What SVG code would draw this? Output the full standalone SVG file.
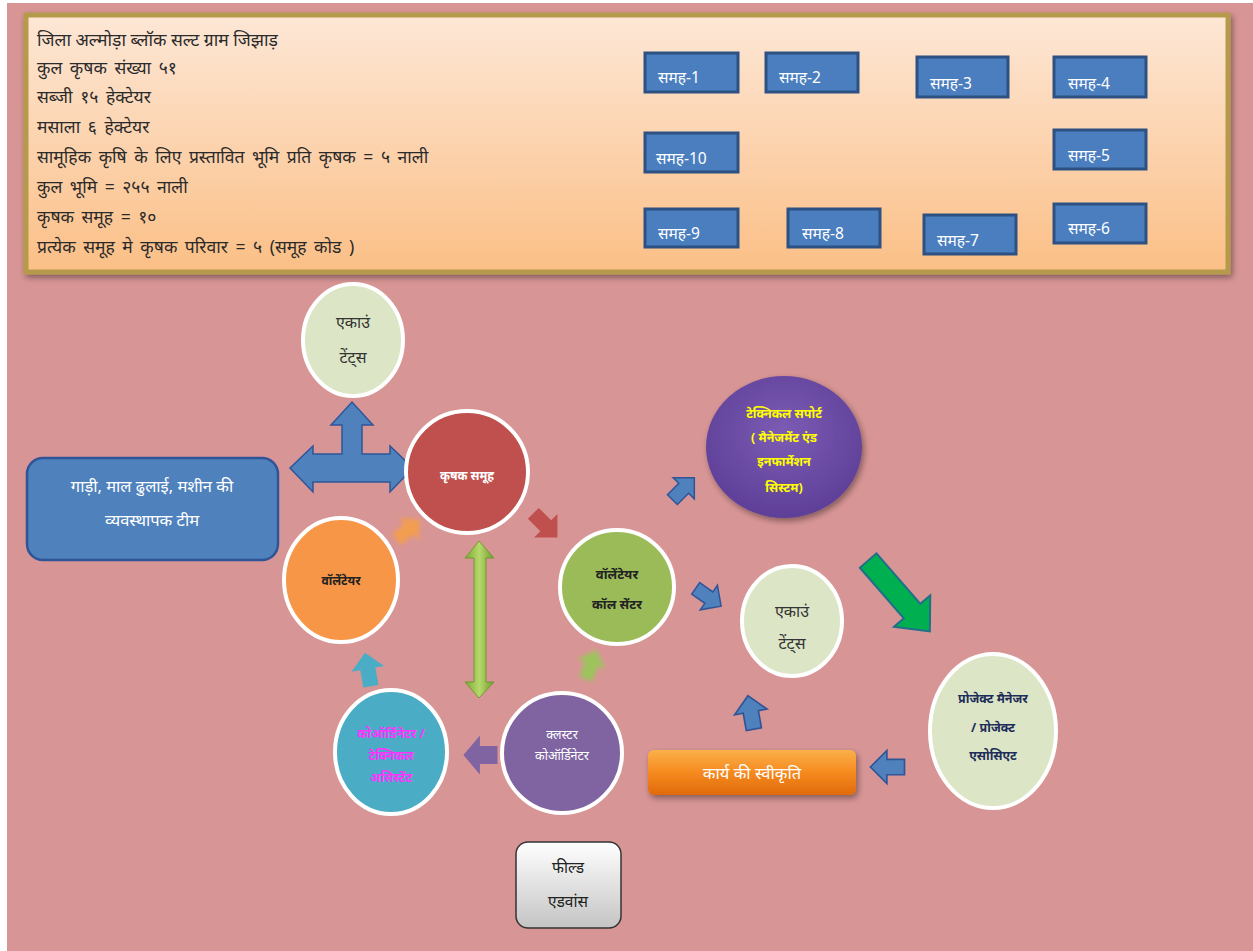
<svg xmlns="http://www.w3.org/2000/svg" width="1253" height="951" viewBox="0 0 1253 951">
<style>
text{font-family:'Noto Sans','Liberation Sans',sans-serif;}
.info{font-size:17.5px;fill:#2a2a2a;word-spacing:3px;}
.info.first{word-spacing:0;}
.grp rect{fill:#4a7ebf;stroke:#2c5182;stroke-width:3;}
.grp text{font-size:15.5px;fill:#ffffff;}
.c{stroke:#ffffff;stroke-width:4;}
.ctr{text-anchor:middle;}
.ba{stroke:#2f5597;stroke-width:1.5;}
</style>
<defs>
<linearGradient id="topg" x1="0" y1="0" x2="0" y2="1">
<stop offset="0" stop-color="#fde7d6"/>
<stop offset="1" stop-color="#fbbf86"/>
</linearGradient>
<radialGradient id="purg" cx="0.5" cy="0.4" r="0.6">
<stop offset="0" stop-color="#7c5cb4"/>
<stop offset="1" stop-color="#5e3f98"/>
</radialGradient>
<linearGradient id="orbtn" x1="0" y1="0" x2="0" y2="1">
<stop offset="0" stop-color="#fbb04a"/>
<stop offset="0.5" stop-color="#f58a1f"/>
<stop offset="1" stop-color="#e06a0a"/>
</linearGradient>
<linearGradient id="grayg" x1="0" y1="0" x2="0" y2="1">
<stop offset="0" stop-color="#ffffff"/>
<stop offset="1" stop-color="#c4c4c4"/>
</linearGradient>
<linearGradient id="greeng" x1="0" y1="0" x2="1" y2="0">
<stop offset="0" stop-color="#7fa83a"/>
<stop offset="0.5" stop-color="#b6d86a"/>
<stop offset="1" stop-color="#6f9a2e"/>
</linearGradient>
<filter id="soft" x="-20%" y="-20%" width="140%" height="140%">
<feGaussianBlur stdDeviation="2"/>
</filter>
<filter id="shadow" x="-10%" y="-10%" width="120%" height="130%">
<feGaussianBlur in="SourceAlpha" stdDeviation="3"/>
<feOffset dx="2" dy="3"/>
<feComponentTransfer><feFuncA type="linear" slope="0.4"/></feComponentTransfer>
<feMerge><feMergeNode/><feMergeNode in="SourceGraphic"/></feMerge>
</filter>
<path id="blk" d="M-15,-7 L1,-7 L1,-15 L16,0 L1,15 L1,7 L-15,7 Z"/>
</defs>

<rect x="0" y="0" width="1253" height="951" fill="#ffffff"/>
<rect x="7" y="3" width="1246" height="948" fill="#d89595"/>

<!-- info box -->
<g id="info-box">
<rect x="26" y="15" width="1202" height="257" fill="url(#topg)" stroke="#b59a4c" stroke-width="5" filter="url(#shadow)"/>
<text class="info first" x="37" y="46">जिला अल्मोड़ा ब्लॉक सल्ट ग्राम जिझाड़</text>
<text class="info" x="37" y="74">कुल कृषक संख्या ५१</text>
<text class="info" x="37" y="103">सब्जी १५ हेक्टेयर</text>
<text class="info" x="37" y="133">मसाला ६ हेक्टेयर</text>
<text class="info" x="37" y="163">सामूहिक कृषि के लिए प्रस्तावित भूमि प्रति कृषक = ५ नाली</text>
<text class="info" x="37" y="193">कुल भूमि = २५५ नाली</text>
<text class="info" x="37" y="223">कृषक समूह = १०</text>
<text class="info" x="37" y="253">प्रत्येक समूह मे कृषक परिवार = ५ (समूह कोड )</text>
</g>

<g id="grp1" class="grp"><rect x="645" y="53" width="93" height="39"/><text x="658" y="83">समह-1</text></g>
<g id="grp2" class="grp"><rect x="766" y="53" width="92" height="39"/><text x="779" y="83">समह-2</text></g>
<g id="grp3" class="grp"><rect x="917" y="57" width="91" height="40"/><text x="930" y="89">समह-3</text></g>
<g id="grp4" class="grp"><rect x="1054" y="57" width="92" height="40"/><text x="1068" y="89">समह-4</text></g>
<g id="grp10" class="grp"><rect x="645" y="133" width="93" height="39"/><text x="656" y="164">समह-10</text></g>
<g id="grp5" class="grp"><rect x="1054" y="130" width="92" height="39"/><text x="1068" y="161">समह-5</text></g>
<g id="grp9" class="grp"><rect x="645" y="209" width="93" height="38"/><text x="658" y="239">समह-9</text></g>
<g id="grp8" class="grp"><rect x="788" y="209" width="92" height="38"/><text x="802" y="239">समह-8</text></g>
<g id="grp7" class="grp"><rect x="924" y="215" width="92" height="39"/><text x="937" y="246">समह-7</text></g>
<g id="grp6" class="grp"><rect x="1054" y="204" width="92" height="39"/><text x="1068" y="234">समह-6</text></g>

<!-- connectors -->
<g id="connectors">
<polygon class="ba" fill="#4f81bd" points="290,468 313,446 313,454 342,454 342,425 331,425 352,402 373,425 362,425 362,454 390,454 390,446 413,468 390,492 390,482 313,482 313,492"/>
<polygon fill="url(#greeng)" stroke="#6f9a2e" stroke-width="1" points="479,541 494,558 486,558 486,682 494,682 479,698 465,682 474,682 474,558 465,558"/>
<use href="#blk" fill="#c0504d" transform="translate(545,525) rotate(45) scale(1.1)"/>
<use href="#blk" fill="#f9a040" opacity="0.8" filter="url(#soft)" transform="translate(408,530) rotate(-40) scale(1.0)"/>
<use href="#blk" fill="#8fcf50" opacity="0.8" filter="url(#soft)" transform="translate(591,665) rotate(-70) scale(1.0)"/>
<use href="#blk" fill="#4bacc6" transform="translate(368,670) rotate(-100) scale(1.1)"/>
<use href="#blk" fill="#8064a2" transform="translate(481,755) rotate(180) scale(1.1,1.3)"/>
<use href="#blk" class="ba" fill="#4f81bd" transform="translate(683,489) rotate(-45) scale(1.0)"/>
<use href="#blk" class="ba" fill="#4f81bd" transform="translate(708,597) rotate(35) scale(1.0)"/>
<use href="#blk" class="ba" fill="#4f81bd" transform="translate(751,713) rotate(-100) scale(1.1)"/>
<use href="#blk" class="ba" fill="#4f81bd" transform="translate(888,767) rotate(180) scale(1.1)"/>
<polygon fill="#00b050" stroke="#1f6f8b" stroke-width="2" transform="translate(899,596) rotate(49)" points="-47,-11 20,-11 20,-24 47,0 20,24 20,11 -47,11"/>
</g>

<!-- nodes -->
<g id="transport-team">
<rect x="27" y="458" width="251" height="102" rx="16" fill="#4f81bd" stroke="#2f5597" stroke-width="2.5"/>
<text class="ctr" x="152" y="492" font-size="16.5" fill="#ffffff">गाड़ी, माल ढुलाई, मशीन की</text>
<text class="ctr" x="152" y="526" font-size="16.5" fill="#ffffff">व्यवस्थापक टीम</text>
</g>

<g id="accounts-top">
<ellipse class="c" cx="353" cy="340" rx="50" ry="56" fill="#dce6c6"/>
<text class="ctr" x="353" y="328" font-size="16" fill="#333333">एकाउं</text>
<text class="ctr" x="353" y="363" font-size="16" fill="#333333">टेंट्स</text>
</g>

<g id="krishak-samooh">
<circle class="c" cx="467" cy="472" r="61" fill="#c0504d"/>
<text class="ctr" x="467" y="480" font-size="12" font-weight="bold" fill="#ffffff">कृषक समूह</text>
</g>

<g id="volunteer">
<ellipse class="c" cx="341" cy="580" rx="57" ry="62" fill="#f79646"/>
<text class="ctr" x="341" y="585" font-size="12" font-weight="bold" fill="#222222">वॉलेंटेयर</text>
</g>

<g id="call-center">
<circle class="c" cx="617" cy="587" r="57" fill="#9bbb59"/>
<text class="ctr" x="617" y="579" font-size="13" font-weight="bold" fill="#222222">वॉलेंटेयर</text>
<text class="ctr" x="617" y="609" font-size="13" font-weight="bold" fill="#222222">कॉल सेंटर</text>
</g>

<g id="tech-support">
<ellipse cx="784" cy="447" rx="78" ry="71" fill="url(#purg)" filter="url(#shadow)"/>
<text class="ctr" x="784" y="418" font-size="12.5" font-weight="bold" fill="#ffff00">टेक्निकल सपोर्ट</text>
<text class="ctr" x="784" y="442" font-size="12.5" font-weight="bold" fill="#ffff00">( मैनेजमेंट एंड</text>
<text class="ctr" x="784" y="466" font-size="12.5" font-weight="bold" fill="#ffff00">इनफार्मेशन</text>
<text class="ctr" x="784" y="492" font-size="12.5" font-weight="bold" fill="#ffff00">सिस्टम)</text>
</g>

<g id="accounts-right">
<ellipse class="c" cx="792" cy="621" rx="50" ry="55" fill="#dce6c6"/>
<text class="ctr" x="792" y="617" font-size="16" fill="#333333">एकाउं</text>
<text class="ctr" x="792" y="649" font-size="16" fill="#333333">टेंट्स</text>
</g>

<g id="project-manager">
<ellipse class="c" cx="993" cy="731" rx="63" ry="77" fill="#dce6c6"/>
<text class="ctr" x="993" y="703" font-size="12.5" font-weight="bold" fill="#1f2d5a">प्रोजेक्ट मैनेजर</text>
<text class="ctr" x="993" y="732" font-size="12.5" font-weight="bold" fill="#1f2d5a">/ प्रोजेक्ट</text>
<text class="ctr" x="993" y="760" font-size="12.5" font-weight="bold" fill="#1f2d5a">एसोसिएट</text>
</g>

<g id="cluster-coordinator">
<circle class="c" cx="562" cy="753" r="60" fill="#8064a2"/>
<text class="ctr" x="562" y="739" font-size="12.5" fill="#ffffff">क्लस्टर</text>
<text class="ctr" x="562" y="760" font-size="12.5" fill="#ffffff">कोऑर्डिनेटर</text>
</g>

<g id="coordinator-tech-assistant">
<ellipse class="c" cx="391" cy="752" rx="56" ry="62" fill="#4bacc6"/>
<text class="ctr" x="391" y="738" font-size="12.5" font-weight="bold" fill="#ff33ff">कोऑर्डिनेटर /</text>
<text class="ctr" x="391" y="760" font-size="12.5" font-weight="bold" fill="#ff33ff">टेक्निकल</text>
<text class="ctr" x="391" y="782" font-size="12.5" font-weight="bold" fill="#ff33ff">असिस्टेंट</text>
</g>

<g id="work-approval">
<rect x="648" y="750" width="208" height="45" rx="6" fill="url(#orbtn)" filter="url(#shadow)"/>
<text class="ctr" x="752" y="779" font-size="16.5" fill="#ffffff">कार्य की स्वीकृति</text>
</g>

<g id="field-advance">
<rect x="516" y="842" width="105" height="86" rx="12" fill="url(#grayg)" stroke="#333333" stroke-width="1.5"/>
<text class="ctr" x="568" y="873" font-size="15.5" fill="#222222">फील्ड</text>
<text class="ctr" x="568" y="907" font-size="15.5" fill="#222222">एडवांस</text>
</g>
</svg>
